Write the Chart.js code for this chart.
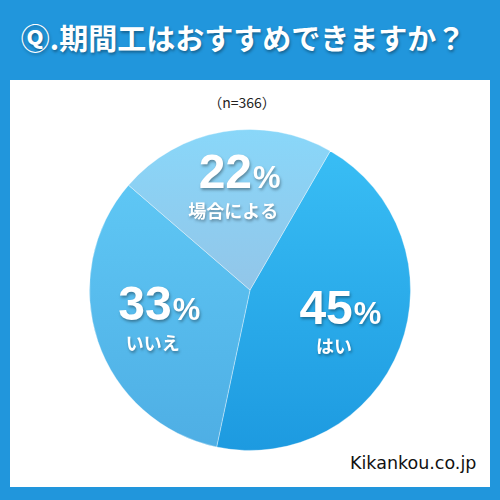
<!DOCTYPE html>
<html>
<head>
<meta charset="utf-8">
<script src="https://cdn.jsdelivr.net/npm/chart.js@4"></script>
<style>
  html, body { margin: 0; padding: 0; }
  body { width: 500px; height: 500px; background: #2196dc; position: relative; overflow: hidden; font-family: "Noto Sans CJK JP", "Liberation Sans", sans-serif; }
  #title { position: absolute; left: 0; top: 16px; width: 486px; text-align: center; color: #fff; font-size: 29px; font-weight: bold; text-shadow: 1px 2px 3px rgba(0,0,0,0.35); }
  #panel { position: absolute; left: 10px; top: 80px; width: 480px; height: 407px; background: #fff; }
  #n { position: absolute; left: 0; top: 92px; width: 484px; text-align: center; font-size: 14px; color: #222; }
  #src { position: absolute; left: 350px; top: 453px; font-family: "DejaVu Sans", sans-serif; font-size: 17.5px; color: #111; }
  #box { position: absolute; left: 89px; top: 129px; width: 322px; height: 322px; }
</style>
</head>
<body>
<div id="title">Ⓠ.期間工はおすすめできますか？</div>
<div id="panel"></div>
<div id="n">（n=366）</div>
<div id="box"><canvas id="c" width="322" height="322"></canvas></div>
<div id="src">Kikankou.co.jp</div>
<script>
const categories = ["はい", "いいえ", "場合による"];
const shares = [45, 33, 22];

// slice shading (top -> bottom)
const topColors = ["#3bc0f6", "#62ccf8", "#89d7f9"];
const bottomColors = ["#1d9ae0", "#4eaee4", "#93c4e7"];
const bottomStops = [1, 1, 0.55];

const sliceFill = (context) => {
  const chart = context.chart;
  const area = chart.chartArea;
  const i = context.dataIndex;
  if (!area) return topColors[i];
  const g = chart.ctx.createLinearGradient(0, area.top, 0, area.bottom);
  g.addColorStop(0, topColors[i]);
  g.addColorStop(bottomStops[i], bottomColors[i]);
  if (bottomStops[i] < 1) g.addColorStop(1, bottomColors[i]);
  return g;
};

// labels inside the slices
const sliceLabels = {
  id: "sliceLabels",
  afterDatasetsDraw(chart) {
    const ctx = chart.ctx;
    const meta = chart.getDatasetMeta(0);
    meta.data.forEach((arc, i) => {
      const p = arc.getProps(["x", "y", "startAngle", "endAngle", "outerRadius"], true);
      const mid = (p.startAngle + p.endAngle) / 2 + (i === 2 ? 0.06 : 0);
      const r = p.outerRadius * (i === 2 ? 0.63 : 0.6);
      const x = p.x + Math.cos(mid) * r;
      const y = p.y + Math.sin(mid) * r;

      ctx.save();
      ctx.fillStyle = "#fff";
      ctx.shadowColor = "rgba(0,0,0,0.35)";
      ctx.shadowOffsetX = 1;
      ctx.shadowOffsetY = 2;
      ctx.shadowBlur = 3;
      ctx.textBaseline = "alphabetic";

      const num = String(shares[i]);
      ctx.font = "bold 48px 'Liberation Sans', Arial, sans-serif";
      const wNum = ctx.measureText(num).width;
      ctx.font = "bold 31px 'Liberation Sans', Arial, sans-serif";
      const wPct = ctx.measureText("%").width;
      const left = x - (wNum + wPct) / 2;
      ctx.textAlign = "left";
      ctx.font = "bold 48px 'Liberation Sans', Arial, sans-serif";
      ctx.fillText(num, left, y - 1);
      ctx.font = "bold 31px 'Liberation Sans', Arial, sans-serif";
      ctx.fillText("%", left + wNum + 1, y - 1);

      ctx.textAlign = "center";
      ctx.textBaseline = "middle";
      ctx.font = "bold 18px 'Noto Sans CJK JP', sans-serif";
      ctx.fillText(categories[i], x - 6, y + 22);
      ctx.restore();
    });
  }
};

new Chart(document.getElementById("c"), {
  type: "pie",
  data: {
    labels: categories,
    datasets: [{
      data: shares,
      backgroundColor: sliceFill,
      borderColor: "rgba(255,255,255,0.35)",
      borderWidth: 1
    }]
  },
  options: {
    responsive: false,
    animation: false,
    rotation: 30,
    layout: { padding: 0 },
    plugins: {
      legend: { display: false },
      tooltip: { enabled: false }
    }
  },
  plugins: [sliceLabels]
});
</script>
</body>
</html>
